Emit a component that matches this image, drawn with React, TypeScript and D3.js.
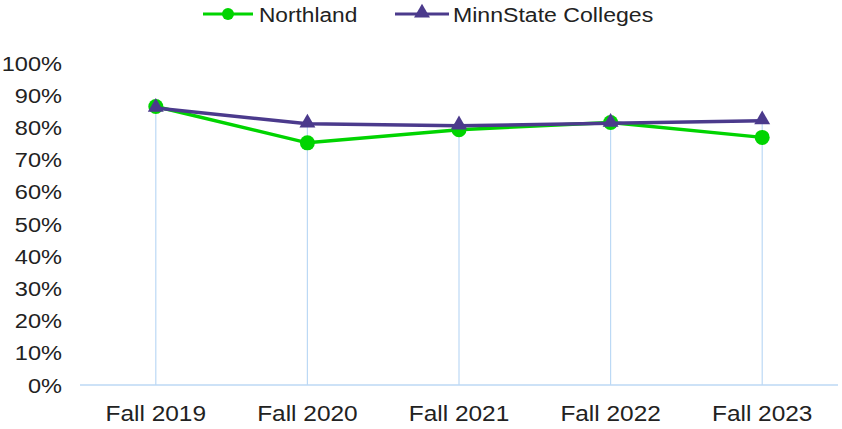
import React from "react";
import * as d3 from "d3";

const categories = ["Fall 2019", "Fall 2020", "Fall 2021", "Fall 2022", "Fall 2023"];
const northland = [86.5, 75.2, 79.3, 81.5, 76.9];
const minnState = [86.0, 81.1, 80.5, 81.3, 82.1];
const yTicks = [0, 10, 20, 30, 40, 50, 60, 70, 80, 90, 100];

const W = 842;
const H = 429;
const margin = {top: 63, right: 4, bottom: 44, left: 80};

const GREEN = "#00d400";
const PURPLE = "#4b3a8c";
const GRID = "#bcd9f5";
const TEXT = "#222";
const FONT = "'Liberation Sans', Arial, sans-serif";

const triangle = d3.symbol().type(d3.symbolTriangle).size(110);

// text in the original is a little wider than Arial, so stretch it horizontally
const Label: React.FC<{x: number; y: number; size: number; sx: number; anchor?: string; children: React.ReactNode}> =
    ({x, y, size, sx, anchor = "start", children}) => (
        <text
            transform={`translate(${x},${y}) scale(${sx},1)`}
            fontSize={size}
            textAnchor={anchor}
            fill={TEXT}
        >
            {children}
        </text>
    );

export default function App() {
    const x = d3
        .scaleBand()
        .domain(categories)
        .range([margin.left, W - margin.right]);

    const y = d3
        .scaleLinear()
        .domain([0, 100])
        .range([H - margin.bottom, margin.top]);

    const cx = (c: string) => (x(c) as number) + x.bandwidth() / 2;

    const line = d3
        .line<number>()
        .x((d, i) => cx(categories[i]))
        .y((d) => y(d));

    return (
        <svg
            width={W}
            height={H}
            style={{position: "absolute", left: 0, top: 0, background: "#fff"}}
            fontFamily={FONT}
        >
            {/* legend */}
            <g>
                <line x1={203} x2={253} y1={14} y2={14} stroke={GREEN} strokeWidth={3}/>
                <circle cx={228} cy={14} r={6} fill={GREEN}/>
                <Label x={259} y={22} size={21} sx={1.08}>Northland</Label>
                <line x1={395} x2={449} y1={14} y2={14} stroke={PURPLE} strokeWidth={3}/>
                <path d={triangle()!} transform="translate(422,13)" fill={PURPLE}/>
                <Label x={453} y={22} size={21} sx={1.1}>MinnState Colleges</Label>
            </g>

            {/* y axis labels */}
            {yTicks.map((t) => (
                <Label key={t} x={62} y={y(t) + 7.5} size={20.5} sx={1.15} anchor="end">
                    {t}%
                </Label>
            ))}

            {/* drop lines */}
            {categories.map((c, i) => (
                <line
                    key={c}
                    x1={cx(c)}
                    x2={cx(c)}
                    y1={y(0)}
                    y2={y(Math.max(northland[i], minnState[i]))}
                    stroke={GRID}
                    strokeWidth={1.2}
                />
            ))}

            {/* x axis */}
            <line x1={margin.left} x2={W - margin.right} y1={y(0)} y2={y(0)} stroke={GRID} strokeWidth={1.5}/>
            {categories.map((c) => (
                <Label key={c} x={cx(c)} y={y(0) + 36} size={22} sx={1.11} anchor="middle">
                    {c}
                </Label>
            ))}

            {/* series */}
            <path d={line(northland)!} fill="none" stroke={GREEN} strokeWidth={3.5}/>
            {northland.map((v, i) => (
                <circle key={i} cx={cx(categories[i])} cy={y(v)} r={7.5} fill={GREEN}/>
            ))}
            <path d={line(minnState)!} fill="none" stroke={PURPLE} strokeWidth={3.5}/>
            {minnState.map((v, i) => (
                <path
                    key={i}
                    d={triangle()!}
                    transform={`translate(${cx(categories[i])},${y(v) - 1})`}
                    fill={PURPLE}
                />
            ))}
        </svg>
    );
}
